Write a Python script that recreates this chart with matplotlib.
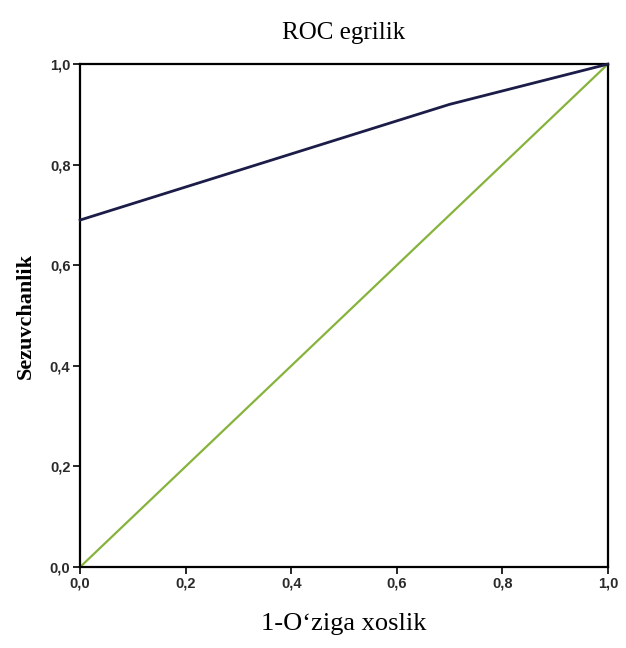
import matplotlib
matplotlib.use("Agg")
import matplotlib.pyplot as plt

# ROC curve (1 - specificity, sensitivity)
fpr = [0.0, 0.70, 1.0]
tpr = [0.69, 0.92, 1.0]

# reference diagonal
ref_x = [0.0, 1.0]
ref_y = [0.0, 1.0]

tick_vals = [0.0, 0.2, 0.4, 0.6, 0.8, 1.0]
tick_labels = ["0,0", "0,2", "0,4", "0,6", "0,8", "1,0"]

fig = plt.figure(figsize=(6.26, 6.48), dpi=100)
ax = fig.add_axes([0.128, 0.125, 0.843, 0.776])

ax.plot(ref_x, ref_y, color="#86b33c", lw=1.6, zorder=2)
ax.plot(fpr, tpr, color="#1c1c48", lw=2.0, zorder=3, clip_on=False)

ax.set_xlim(0, 1)
ax.set_ylim(0, 1)
ax.set_xticks(tick_vals)
ax.set_xticklabels(tick_labels)
ax.set_yticks(tick_vals)
ax.set_yticklabels(tick_labels)

for lab in ax.get_xticklabels() + ax.get_yticklabels():
    lab.set_family("Liberation Sans")
    lab.set_fontsize(10.5)
    lab.set_fontweight("bold")
    lab.set_color("#2a2a2a")

ax.tick_params(direction="out", length=5, width=1.2, color="black", pad=2)
for spine in ax.spines.values():
    spine.set_linewidth(1.6)
    spine.set_color("black")

ax.set_title("ROC egrilik", family="Liberation Serif", fontsize=18, pad=18)
ax.set_xlabel("1-O\u2018ziga xoslik", family="Liberation Serif", fontsize=19, labelpad=16)
ax.set_ylabel("Sezuvchanlik", family="Liberation Serif", fontsize=16,
              fontweight="bold", labelpad=10)

fig.savefig("out.png", dpi=100, facecolor="white")
plt.close(fig)
